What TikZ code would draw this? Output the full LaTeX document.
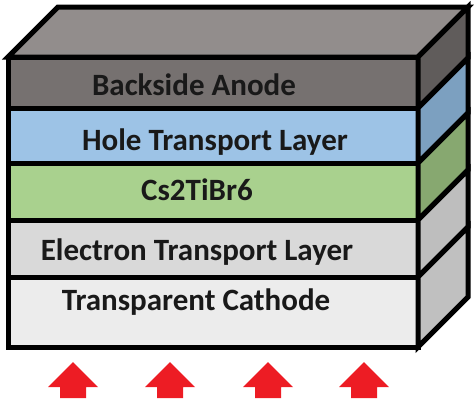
\documentclass[tikz,border=0pt]{standalone}
\usepackage{fontspec}
\setmainfont{Carlito}
\usepackage{tikz}

\definecolor{topgray}{RGB}{146,141,140}
\definecolor{anodefront}{RGB}{118,113,112}
\definecolor{anodeside}{RGB}{96,92,91}
\definecolor{htlfront}{RGB}{157,195,230}
\definecolor{htlside}{RGB}{124,160,192}
\definecolor{absfront}{RGB}{169,209,142}
\definecolor{absside}{RGB}{135,168,112}
\definecolor{etlfront}{RGB}{217,217,217}
\definecolor{etlside}{RGB}{190,190,190}
\definecolor{cathfront}{RGB}{236,236,236}
\definecolor{cathside}{RGB}{192,192,192}
\definecolor{lightred}{RGB}{237,28,36}

\tikzset{
  slab/.style={draw=black, line width=5pt, line join=miter},
  layertext/.style={font=\fontsize{31}{36}\selectfont\bfseries, text=black!90,
    anchor=base, inner sep=0pt},
  lightarrow/.style={fill=lightred, draw=none}
}

\begin{document}
\begin{tikzpicture}[x=1pt, y=-1pt]
  \useasboundingbox (0,0) rectangle (474,402);
  % top face of the stack
  \filldraw[slab, fill=topgray] (8,57) -- ++(50,-50) -- (468,7) -- (418,57) -- cycle;
  % layers, front and right side
  \foreach \t/\b/\fc/\sc/\nm/\tx/\ty/\txt in {
      57/108/anodefront/anodeside/anode/194/95/Backside Anode,
      108/163/htlfront/htlside/htl/215/150/Hole Transport Layer,
      163/220/absfront/absside/absorber/197/200/Cs2TiBr6,
      220/277/etlfront/etlside/etl/197/260/Electron Transport Layer,
      277/347/cathfront/cathside/cathode/196/310/Transparent Cathode}
  {
    \filldraw[slab, fill=\fc] (8,\t) rectangle (418,\b);
    \filldraw[slab, fill=\sc] (418,\t) -- ++(50,-50) -- ++(0,\b-\t) -- (418,\b) -- cycle;
    \node[layertext] (\nm) at (\tx,\ty) {\txt};
  }
  % incoming light
  \foreach \cx in {73,170,268,364}
    \fill[lightarrow] (\cx,362) -- (\cx+25,387) -- (\cx+13,387) -- (\cx+13,398)
      -- (\cx-13,398) -- (\cx-13,387) -- (\cx-25,387) -- cycle;
\end{tikzpicture}
\end{document}
